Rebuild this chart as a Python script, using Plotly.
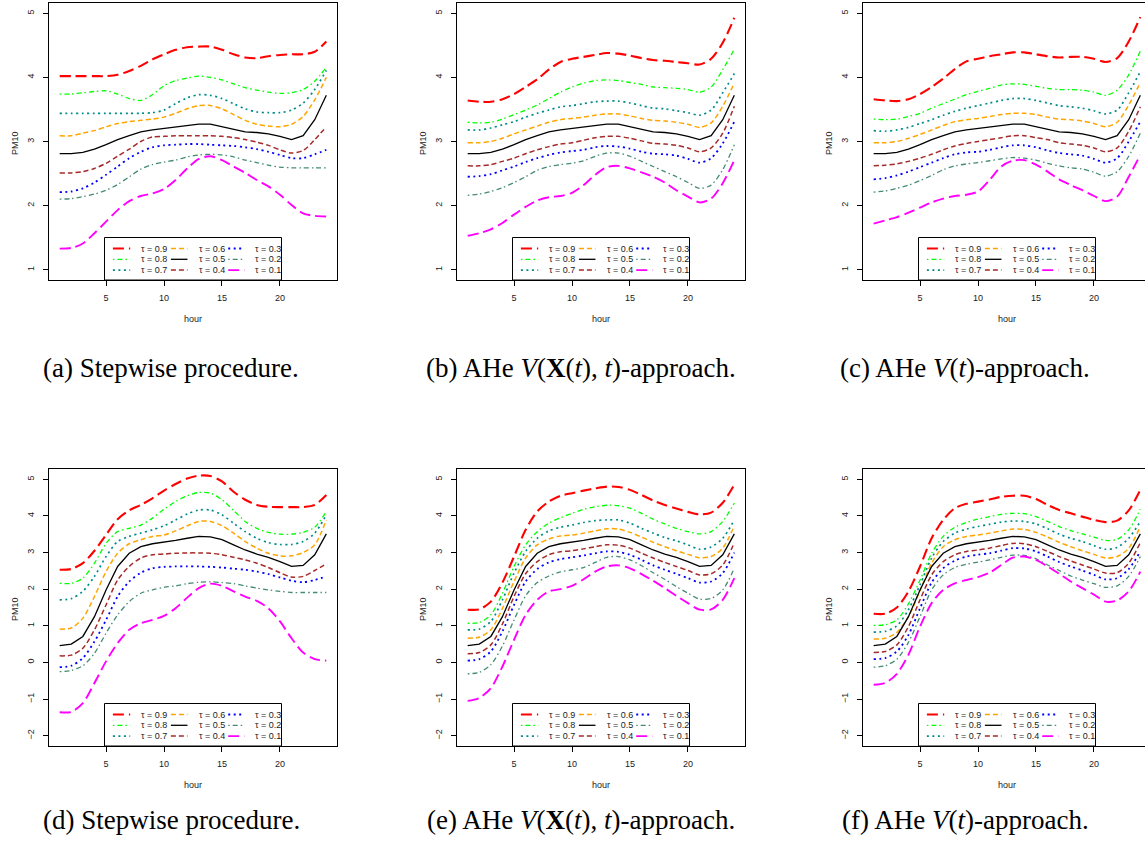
import plotly.graph_objects as go

# ---------------------------------------------------------------- data
hours = list(range(1, 25))
tau_labels = ["0.9", "0.8", "0.7", "0.6", "0.5", "0.4", "0.3", "0.2", "0.1"]

# median curves (shared within each row)
med_top = [2.81, 2.81, 2.83, 2.88, 2.95, 3.03, 3.09, 3.15, 3.18, 3.20, 3.22, 3.25,
           3.27, 3.27, 3.23, 3.19, 3.15, 3.14, 3.12, 3.08, 3.03, 3.09, 3.34, 3.72]
med_bot = [0.46, 0.50, 0.71, 1.25, 1.98, 2.62, 2.98, 3.16, 3.24, 3.28, 3.33, 3.39,
           3.44, 3.43, 3.35, 3.21, 3.07, 2.96, 2.87, 2.75, 2.62, 2.65, 2.94, 3.51]

# (a) stepwise procedure, PM10 top row
a_q90 = [4.02, 4.02, 4.02, 4.02, 4.02, 4.04, 4.10, 4.18, 4.28, 4.36, 4.43, 4.47,
         4.48, 4.48, 4.43, 4.36, 4.31, 4.30, 4.33, 4.35, 4.36, 4.36, 4.40, 4.56]
a_q80 = [3.74, 3.74, 3.76, 3.78, 3.79, 3.74, 3.67, 3.64, 3.73, 3.87, 3.95, 3.99,
         4.02, 4.00, 3.96, 3.90, 3.84, 3.80, 3.77, 3.75, 3.76, 3.81, 3.94, 4.16]
a_q70 = [3.44, 3.44, 3.44, 3.44, 3.44, 3.44, 3.44, 3.44, 3.45, 3.49, 3.59, 3.68,
         3.73, 3.72, 3.67, 3.59, 3.51, 3.46, 3.45, 3.45, 3.49, 3.60, 3.81, 4.11]
a_q60 = [3.09, 3.09, 3.13, 3.17, 3.23, 3.28, 3.31, 3.33, 3.35, 3.38, 3.44, 3.51,
         3.56, 3.56, 3.51, 3.42, 3.33, 3.27, 3.24, 3.23, 3.27, 3.39, 3.65, 4.00]
a_q40 = [2.51, 2.51, 2.53, 2.58, 2.66, 2.77, 2.88, 3.00, 3.07, 3.08, 3.09, 3.09,
         3.09, 3.09, 3.08, 3.06, 3.03, 2.99, 2.94, 2.87, 2.82, 2.86, 3.03, 3.23]
a_q30 = [2.21, 2.22, 2.27, 2.36, 2.48, 2.61, 2.74, 2.84, 2.91, 2.94, 2.95, 2.96,
         2.96, 2.95, 2.94, 2.93, 2.91, 2.88, 2.84, 2.79, 2.74, 2.74, 2.80, 2.87]
a_q20 = [2.10, 2.11, 2.14, 2.18, 2.24, 2.33, 2.45, 2.57, 2.64, 2.68, 2.71, 2.76,
         2.79, 2.80, 2.79, 2.76, 2.71, 2.67, 2.63, 2.60, 2.59, 2.59, 2.59, 2.59]
a_q10 = [1.33, 1.34, 1.41, 1.57, 1.75, 1.93, 2.07, 2.15, 2.19, 2.26, 2.40, 2.58,
         2.73, 2.77, 2.71, 2.61, 2.51, 2.40, 2.30, 2.17, 2.01, 1.88, 1.84, 1.83]

# (b) AHe V(X(t),t)
b_q90 = [3.64, 3.62, 3.62, 3.66, 3.74, 3.85, 3.97, 4.12, 4.24, 4.29, 4.32, 4.35,
         4.38, 4.37, 4.34, 4.30, 4.27, 4.26, 4.24, 4.22, 4.20, 4.29, 4.54, 4.93]
b_q80 = [3.30, 3.29, 3.30, 3.35, 3.42, 3.49, 3.57, 3.67, 3.77, 3.85, 3.91, 3.95,
         3.96, 3.95, 3.92, 3.89, 3.85, 3.84, 3.83, 3.81, 3.77, 3.85, 4.12, 4.44]
b_q70 = [3.18, 3.18, 3.21, 3.26, 3.31, 3.38, 3.44, 3.49, 3.54, 3.56, 3.59, 3.62,
         3.63, 3.63, 3.60, 3.56, 3.52, 3.51, 3.48, 3.45, 3.41, 3.49, 3.76, 4.06]
b_q60 = [2.98, 2.98, 3.00, 3.05, 3.12, 3.18, 3.24, 3.30, 3.34, 3.36, 3.38, 3.41,
         3.43, 3.43, 3.40, 3.36, 3.33, 3.32, 3.30, 3.27, 3.22, 3.29, 3.55, 3.91]
b_q40 = [2.62, 2.62, 2.64, 2.69, 2.74, 2.81, 2.87, 2.92, 2.96, 2.98, 3.02, 3.06,
         3.08, 3.08, 3.05, 3.01, 2.97, 2.96, 2.94, 2.90, 2.84, 2.90, 3.13, 3.55]
b_q30 = [2.45, 2.46, 2.49, 2.55, 2.61, 2.68, 2.74, 2.79, 2.83, 2.85, 2.87, 2.91,
         2.93, 2.92, 2.89, 2.84, 2.81, 2.80, 2.78, 2.73, 2.67, 2.74, 2.97, 3.31]
b_q20 = [2.16, 2.18, 2.22, 2.28, 2.36, 2.45, 2.55, 2.61, 2.64, 2.66, 2.70, 2.77,
         2.82, 2.82, 2.77, 2.69, 2.61, 2.53, 2.45, 2.36, 2.27, 2.32, 2.56, 2.95]
b_q10 = [1.53, 1.57, 1.63, 1.73, 1.86, 1.98, 2.08, 2.13, 2.15, 2.20, 2.32, 2.48,
         2.60, 2.62, 2.58, 2.52, 2.45, 2.36, 2.24, 2.14, 2.05, 2.11, 2.35, 2.71]

# (c) AHe V(t)
c_q90 = [3.66, 3.64, 3.63, 3.66, 3.74, 3.85, 3.98, 4.13, 4.25, 4.29, 4.33, 4.36,
         4.39, 4.39, 4.36, 4.33, 4.31, 4.32, 4.32, 4.29, 4.24, 4.30, 4.56, 4.94]
c_q80 = [3.35, 3.34, 3.35, 3.39, 3.44, 3.52, 3.59, 3.66, 3.73, 3.78, 3.83, 3.88,
         3.90, 3.89, 3.86, 3.83, 3.81, 3.81, 3.80, 3.77, 3.72, 3.80, 4.04, 4.41]
c_q70 = [3.17, 3.16, 3.18, 3.22, 3.28, 3.34, 3.41, 3.47, 3.52, 3.56, 3.60, 3.64,
         3.67, 3.67, 3.64, 3.60, 3.56, 3.54, 3.52, 3.48, 3.43, 3.49, 3.76, 4.09]
c_q60 = [2.98, 2.98, 3.00, 3.05, 3.11, 3.18, 3.25, 3.31, 3.34, 3.36, 3.39, 3.42,
         3.44, 3.44, 3.42, 3.38, 3.35, 3.34, 3.32, 3.28, 3.23, 3.30, 3.57, 3.92]
c_q40 = [2.62, 2.63, 2.65, 2.69, 2.74, 2.80, 2.87, 2.93, 2.97, 3.00, 3.03, 3.06,
         3.09, 3.09, 3.06, 3.03, 2.98, 2.96, 2.94, 2.90, 2.84, 2.90, 3.16, 3.54]
c_q30 = [2.41, 2.43, 2.47, 2.53, 2.60, 2.67, 2.74, 2.80, 2.83, 2.84, 2.87, 2.91,
         2.94, 2.94, 2.91, 2.86, 2.82, 2.80, 2.78, 2.73, 2.67, 2.74, 3.00, 3.31]
c_q20 = [2.21, 2.23, 2.27, 2.32, 2.39, 2.47, 2.56, 2.62, 2.65, 2.67, 2.70, 2.73,
         2.75, 2.74, 2.71, 2.66, 2.62, 2.59, 2.57, 2.52, 2.46, 2.53, 2.77, 3.13]
c_q10 = [1.72, 1.77, 1.82, 1.89, 1.97, 2.05, 2.11, 2.15, 2.17, 2.22, 2.40, 2.61,
         2.70, 2.71, 2.64, 2.53, 2.41, 2.32, 2.24, 2.15, 2.07, 2.14, 2.45, 2.79]

# (d) stepwise procedure, bottom row
d_q90 = [2.53, 2.55, 2.71, 3.05, 3.48, 3.91, 4.15, 4.30, 4.48, 4.69, 4.87, 5.02,
         5.10, 5.09, 4.94, 4.66, 4.44, 4.30, 4.25, 4.24, 4.24, 4.24, 4.30, 4.57]
d_q80 = [2.16, 2.16, 2.30, 2.71, 3.25, 3.57, 3.66, 3.75, 3.94, 4.18, 4.39, 4.55,
         4.64, 4.62, 4.44, 4.15, 3.85, 3.66, 3.55, 3.50, 3.50, 3.55, 3.69, 4.12]
d_q70 = [1.71, 1.74, 1.94, 2.35, 2.89, 3.30, 3.44, 3.53, 3.62, 3.73, 3.89, 4.05,
         4.16, 4.16, 4.03, 3.80, 3.57, 3.39, 3.27, 3.22, 3.22, 3.30, 3.53, 4.03]
d_q60 = [0.91, 0.94, 1.21, 1.80, 2.48, 2.98, 3.24, 3.35, 3.44, 3.48, 3.59, 3.73,
         3.85, 3.85, 3.73, 3.53, 3.30, 3.12, 2.98, 2.91, 2.91, 3.00, 3.21, 3.89]
d_q40 = [0.18, 0.20, 0.39, 0.89, 1.57, 2.25, 2.62, 2.85, 2.94, 2.96, 2.98, 2.99,
         2.99, 2.98, 2.94, 2.87, 2.80, 2.71, 2.59, 2.45, 2.33, 2.35, 2.51, 2.69]
d_q30 = [-0.13, -0.09, 0.12, 0.57, 1.16, 1.80, 2.21, 2.45, 2.57, 2.61, 2.62, 2.62,
         2.62, 2.61, 2.59, 2.56, 2.53, 2.48, 2.41, 2.32, 2.23, 2.19, 2.25, 2.35]
d_q20 = [-0.25, -0.22, -0.09, 0.25, 0.80, 1.30, 1.66, 1.89, 1.98, 2.05, 2.09, 2.15,
         2.19, 2.20, 2.18, 2.15, 2.09, 2.03, 1.98, 1.94, 1.91, 1.91, 1.91, 1.91]
d_q10 = [-1.36, -1.35, -1.11, -0.56, 0.03, 0.53, 0.89, 1.07, 1.16, 1.27, 1.48, 1.77,
         2.03, 2.15, 2.09, 1.94, 1.80, 1.68, 1.48, 1.12, 0.66, 0.27, 0.09, 0.05]

# (e) AHe V(X(t),t), bottom row
e_q90 = [1.44, 1.45, 1.66, 2.18, 2.89, 3.62, 4.12, 4.39, 4.55, 4.62, 4.69, 4.75,
         4.80, 4.79, 4.71, 4.57, 4.42, 4.30, 4.20, 4.11, 4.04, 4.09, 4.36, 4.85]
e_q80 = [1.07, 1.09, 1.30, 1.89, 2.62, 3.21, 3.57, 3.80, 3.95, 4.07, 4.18, 4.25,
         4.29, 4.28, 4.21, 4.07, 3.91, 3.78, 3.66, 3.57, 3.51, 3.57, 3.85, 4.35]
e_q70 = [0.89, 0.91, 1.12, 1.71, 2.44, 3.03, 3.39, 3.59, 3.69, 3.75, 3.82, 3.87,
         3.89, 3.89, 3.80, 3.66, 3.53, 3.41, 3.32, 3.21, 3.09, 3.15, 3.39, 3.89]
e_q60 = [0.66, 0.69, 0.89, 1.48, 2.21, 2.85, 3.21, 3.37, 3.45, 3.48, 3.53, 3.59,
         3.65, 3.64, 3.55, 3.42, 3.28, 3.16, 3.05, 2.95, 2.86, 2.89, 3.12, 3.73]
e_q40 = [0.24, 0.27, 0.48, 1.05, 1.80, 2.42, 2.75, 2.94, 3.02, 3.05, 3.10, 3.16,
         3.21, 3.20, 3.12, 2.98, 2.85, 2.73, 2.62, 2.51, 2.39, 2.42, 2.66, 3.27]
e_q30 = [0.05, 0.09, 0.30, 0.85, 1.57, 2.21, 2.55, 2.73, 2.82, 2.87, 2.92, 2.98,
         3.03, 3.02, 2.94, 2.80, 2.65, 2.53, 2.42, 2.30, 2.18, 2.21, 2.44, 3.00]
e_q20 = [-0.31, -0.27, -0.06, 0.45, 1.16, 1.82, 2.18, 2.36, 2.47, 2.53, 2.59, 2.73,
         2.87, 2.89, 2.80, 2.64, 2.45, 2.27, 2.07, 1.89, 1.73, 1.75, 1.98, 2.57]
e_q10 = [-1.05, -0.97, -0.70, -0.11, 0.62, 1.30, 1.71, 1.94, 2.00, 2.09, 2.27, 2.48,
         2.62, 2.65, 2.57, 2.41, 2.23, 2.03, 1.82, 1.62, 1.44, 1.45, 1.71, 2.30]

# (f) AHe V(t), bottom row
f_q90 = [1.33, 1.33, 1.50, 1.94, 2.62, 3.39, 3.89, 4.21, 4.33, 4.39, 4.45, 4.52,
         4.55, 4.55, 4.46, 4.30, 4.16, 4.07, 3.98, 3.89, 3.83, 3.87, 4.15, 4.71]
f_q80 = [1.01, 1.03, 1.16, 1.60, 2.25, 2.98, 3.44, 3.69, 3.82, 3.91, 3.98, 4.04,
         4.07, 4.06, 3.98, 3.85, 3.71, 3.60, 3.51, 3.42, 3.33, 3.36, 3.62, 4.18]
f_q70 = [0.83, 0.85, 1.00, 1.44, 2.12, 2.85, 3.30, 3.53, 3.64, 3.71, 3.77, 3.83,
         3.86, 3.85, 3.78, 3.65, 3.50, 3.39, 3.30, 3.19, 3.09, 3.14, 3.39, 3.85]
f_q60 = [0.64, 0.66, 0.82, 1.25, 1.96, 2.71, 3.16, 3.35, 3.44, 3.48, 3.53, 3.59,
         3.64, 3.63, 3.55, 3.42, 3.28, 3.16, 3.05, 2.95, 2.85, 2.89, 3.12, 3.71]
f_q40 = [0.27, 0.30, 0.48, 0.98, 1.71, 2.39, 2.75, 2.94, 3.03, 3.07, 3.12, 3.19,
         3.25, 3.24, 3.16, 3.03, 2.89, 2.77, 2.66, 2.55, 2.44, 2.45, 2.71, 3.27]
f_q30 = [0.09, 0.12, 0.30, 0.75, 1.48, 2.18, 2.57, 2.78, 2.89, 2.94, 2.98, 3.05,
         3.12, 3.11, 3.03, 2.89, 2.74, 2.62, 2.51, 2.39, 2.27, 2.30, 2.55, 3.03]
f_q20 = [-0.13, -0.09, 0.09, 0.55, 1.25, 1.98, 2.39, 2.59, 2.68, 2.74, 2.80, 2.87,
         2.93, 2.92, 2.83, 2.66, 2.51, 2.36, 2.25, 2.15, 2.05, 2.09, 2.35, 2.89]
f_q10 = [-0.61, -0.56, -0.31, 0.21, 0.98, 1.62, 1.98, 2.16, 2.25, 2.33, 2.45, 2.66,
         2.86, 2.89, 2.80, 2.62, 2.42, 2.21, 2.03, 1.85, 1.66, 1.69, 1.94, 2.48]

captions = [
    "(a) Stepwise procedure.",
    "(b) AHe <i>V</i>(<b>X</b>(<i>t</i>), <i>t</i>)-approach.",
    "(c) AHe <i>V</i>(<i>t</i>)-approach.",
    "(d) Stepwise procedure.",
    "(e) AHe <i>V</i>(<b>X</b>(<i>t</i>), <i>t</i>)-approach.",
    "(f) AHe <i>V</i>(<i>t</i>)-approach.",
]

# ---------------------------------------------------------------- styling
colors = ["#FF0000", "#00FF00", "#008B8B", "#FFA500", "#000000",
          "#A52A2A", "#0000FF", "#458B74", "#FF00FF"]
dashes = ["11px,5px", "1.5px,3px,5px,3px", "2px,3.5px", "5px,3px", "solid",
          "5px,3px", "2px,3.5px", "1.5px,3px,5px,3px", "11px,5px"]
widths = [2.1, 1.3, 1.7, 1.5, 1.3, 1.5, 1.8, 1.3, 1.9]
shapes_line = ["spline"] * 4 + ["linear"] + ["spline"] * 4

W, H = 1145, 856
col_left = [49, 457, 863]
box_w = 288
row_top = [3, 469]
box_h = 277
x_full = (0.08, 24.92)
y_ranges = [(0.84, 5.16), (-2.28, 5.28)]
y_ticks = [[1, 2, 3, 4, 5], [-2, -1, 0, 1, 2, 3, 4, 5]]

panels = [
    [a_q90, a_q80, a_q70, a_q60, med_top, a_q40, a_q30, a_q20, a_q10],
    [b_q90, b_q80, b_q70, b_q60, med_top, b_q40, b_q30, b_q20, b_q10],
    [c_q90, c_q80, c_q70, c_q60, med_top, c_q40, c_q30, c_q20, c_q10],
    [d_q90, d_q80, d_q70, d_q60, med_bot, d_q40, d_q30, d_q20, d_q10],
    [e_q90, e_q80, e_q70, e_q60, med_bot, e_q40, e_q30, e_q20, e_q10],
    [f_q90, f_q80, f_q70, f_q60, med_bot, f_q40, f_q30, f_q20, f_q10],
]

SANS = "Liberation Sans, Arial, sans-serif"
SERIF = "Liberation Serif, Times New Roman, serif"
TXT = "#1a1a1a"


def px(xp):
    return xp / W


def py(yp):
    return 1 - yp / H


fig = go.Figure()
shapes = []
annotations = []

for k, series in enumerate(panels):
    row, col = divmod(k, 3)
    idx = "" if k == 0 else str(k + 1)
    xa, ya = "x" + idx, "y" + idx

    left = col_left[col]
    right = left + box_w
    top = row_top[row]
    bottom = top + box_h

    # panels running past the right edge of the canvas are clipped there
    vis_right = min(right, W)
    span = x_full[1] - x_full[0]
    x_range = [x_full[0], x_full[0] + span * (vis_right - left) / box_w]

    for i, vals in enumerate(series):
        fig.add_trace(go.Scatter(
            x=hours, y=vals, mode="lines", xaxis=xa, yaxis=ya,
            line=dict(color=colors[i], width=widths[i], dash=dashes[i],
                      shape=shapes_line[i], smoothing=0.8),
            showlegend=False, hoverinfo="skip"))

    clipped = right > W
    fig.update_layout(**{
        ("xaxis" + idx): dict(
            domain=[px(left), px(vis_right)], range=x_range, anchor=ya,
            tickvals=[5, 10, 15, 20], ticks="outside", ticklen=5, tickwidth=1,
            tickcolor="black", showline=True, linecolor="black", linewidth=1,
            mirror=True, showgrid=False, zeroline=False,
            tickfont=dict(family=SANS, size=9, color=TXT),
            ticklabelstandoff=4),
        ("yaxis" + idx): dict(
            domain=[py(bottom), py(top)], range=list(y_ranges[row]), anchor=xa,
            tickvals=y_ticks[row], ticks="outside", ticklen=5, tickwidth=1,
            tickcolor="black", showline=True, linecolor="black", linewidth=1,
            mirror=not clipped, showgrid=False, zeroline=False, tickangle=-90,
            tickfont=dict(family=SANS, size=9, color=TXT),
            ticklabelstandoff=5),
    })

    # axis titles
    cx = (left + right) / 2
    annotations.append(dict(
        text="hour", x=px(cx), y=py(bottom + 39), xref="paper", yref="paper",
        showarrow=False, font=dict(family=SANS, size=9, color=TXT),
        xanchor="center", yanchor="middle"))
    annotations.append(dict(
        text="PM10", x=px(left - 34), y=py((top + bottom) / 2 + 1.5),
        xref="paper", yref="paper", showarrow=False, textangle=-90,
        font=dict(family=SANS, size=9, color=TXT),
        xanchor="center", yanchor="middle"))

    # legend box, bottom centre of the panel, three columns
    lw, lh = 177, 42.5
    L = cx - lw / 2
    T = bottom - lh
    shapes.append(dict(type="rect", xref="paper", yref="paper",
                       x0=px(L), x1=px(L + lw), y0=py(T + lh), y1=py(T),
                       line=dict(color="black", width=1), fillcolor="white",
                       layer="above"))
    col_off = [(8.4, 25.7, 34.0), (66.4, 83.0, 92.0), (123.7, 140.0, 148.5)]
    row_off = [11.0, 21.8, 32.6]
    for i in range(9):
        c, r = divmod(i, 3)
        x0, x1, xt = col_off[c]
        yy = T + row_off[r]
        shapes.append(dict(type="line", xref="paper", yref="paper",
                           x0=px(L + x0), x1=px(L + x1), y0=py(yy), y1=py(yy),
                           line=dict(color=colors[i], width=widths[i],
                                     dash=dashes[i]),
                           layer="above"))
        annotations.append(dict(
            text="\u03c4 = " + tau_labels[i], x=px(L + xt), y=py(yy),
            xref="paper", yref="paper", showarrow=False,
            xanchor="left", yanchor="middle",
            font=dict(family=SANS, size=9, color=TXT)))

# sub-figure captions
cap_x = [171, 581, 965]
cap_y = [368, 820]
for k, cap in enumerate(captions):
    row, col = divmod(k, 3)
    annotations.append(dict(
        text=cap, x=px(cap_x[col]), y=py(cap_y[row]), xref="paper", yref="paper",
        showarrow=False, xanchor="center", yanchor="middle",
        font=dict(family=SERIF, size=27, color="black")))

fig.update_layout(
    width=W, height=H, margin=dict(l=0, r=0, t=0, b=0),
    paper_bgcolor="white", plot_bgcolor="white",
    shapes=shapes, annotations=annotations, showlegend=False)

fig.write_html("out.html")
